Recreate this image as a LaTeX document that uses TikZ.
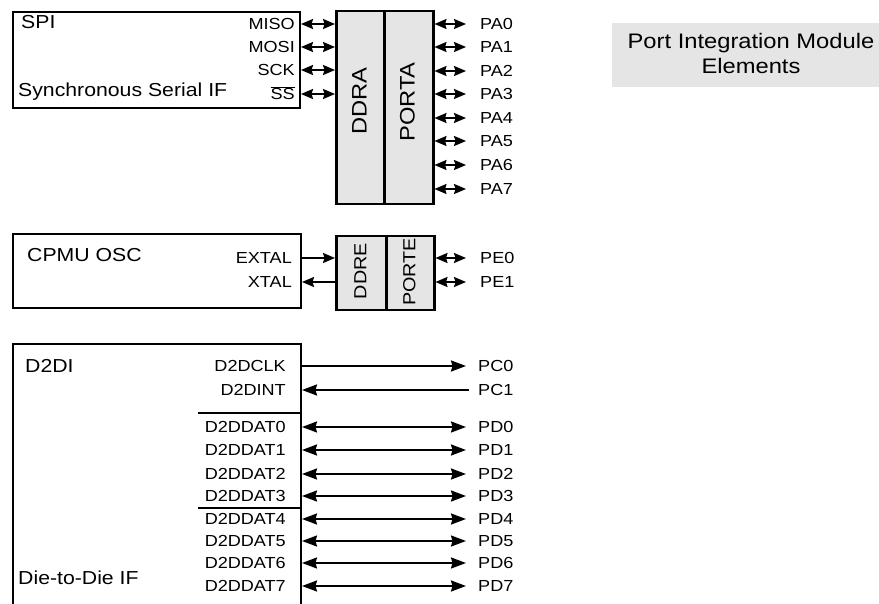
\documentclass[tikz,border=0pt]{standalone}
\usepackage{fontspec}
\setmainfont{Liberation Sans}[FakeStretch=1.13]
\usetikzlibrary{arrows.meta}
\definecolor{regfill}{gray}{0.9}
\begin{document}
\begin{tikzpicture}[x=1pt,y=-1pt,
  >={Stealth[length=15pt,width=11pt,inset=1.5pt]},
  shortarr/.style={>={Stealth[length=12pt,width=10pt,inset=1.5pt]}},
  box/.style={draw, line width=2pt, inner sep=0pt, anchor=north west},
  reg/.style={draw, line width=2.5pt, fill=regfill, inner sep=0pt, anchor=north west},
  big/.style={font=\fontsize{18.8}{24}\selectfont, inner sep=0pt, text height=13.5pt, text depth=0pt},
  legend/.style={font=\fontsize{21}{25}\selectfont, inner sep=0pt, align=center},
  regtext/.style={font=\fontsize{21}{25}\selectfont, inner sep=0pt, rotate=90, text height=15pt, text depth=0pt},
  regtextsm/.style={regtext, font=\fontsize{17.5}{22}\selectfont, text height=12.5pt},
  small/.style={font=\fontsize{16}{19}\selectfont, inner sep=0pt, text height=11.4pt, text depth=0pt},
  sig/.style={line width=2pt},
  sep/.style={line width=2pt}]
\clip (0,0) rectangle (879,604);
\fill[white] (0,0) rectangle (879,604);

% ---------------- SPI / PORTA ----------------
\node[box, minimum width=287pt, minimum height=96pt] (spi) at (12,11) {};
\node[reg, minimum width=48pt, minimum height=193pt] (ddra) at (335,10) {};
\node[reg, minimum width=49pt, minimum height=193pt] (porta) at (383,10) {};
\node[regtext] (ddratxt) at (359,101) {DDRA};
\node[regtext] (portatxt) at (407,102) {PORTA};
\node[big, anchor=west] (spiname) at (21,22) {SPI};
\node[big, anchor=west] (spidesc) at (18,90) {Synchronous Serial IF};

\node[small, anchor=east] (miso) at (295,24) {MISO};
\node[small, anchor=east] (mosi) at (295,47) {MOSI};
\node[small, anchor=east] (sck) at (295,70) {SCK};
\node[small, anchor=east] (ss) at (295,94) {$\overline{\mbox{SS}}$};
\foreach \n in {miso,mosi,sck,ss}
  \draw[sig,shortarr,<->] (spi.east |- \n) -- (ddra.west |- \n);

\foreach \i/\y in {0/24,1/47,2/71,3/94,4/118,5/141,6/165,7/189}{
  \node[small, anchor=west] (pa\i) at (480,\y) {PA\i};
  \draw[sig,shortarr,<->,shorten >=14pt] (porta.east |- pa\i) -- (pa\i.west);
}

% ---------------- CPMU OSC / PORTE ----------------
\node[box, minimum width=288pt, minimum height=74pt] (cpmu) at (12,233) {};
\node[reg, minimum width=50pt, minimum height=74pt] (ddre) at (335,235) {};
\node[reg, minimum width=48pt, minimum height=74pt] (porte) at (385,235) {};
\node[regtextsm] (ddretxt) at (360,271) {DDRE};
\node[regtextsm] (portetxt) at (409,272) {PORTE};
\node[big, anchor=west] (cpmuname) at (27,255) {CPMU OSC};
\node[small, anchor=east] (extal) at (292,258) {EXTAL};
\node[small, anchor=east] (xtal) at (292,282) {XTAL};
\draw[sig,shortarr,->] (cpmu.east |- extal) -- (ddre.west |- extal);
\draw[sig,shortarr,<-] (cpmu.east |- xtal) -- (ddre.west |- xtal);
\node[small, anchor=west] (pe0) at (480,258) {PE0};
\node[small, anchor=west] (pe1) at (480,282) {PE1};
\draw[sig,shortarr,<->,shorten >=14pt] (porte.east |- pe0) -- (pe0.west);
\draw[sig,shortarr,<->,shorten >=14pt] (porte.east |- pe1) -- (pe1.west);

% ---------------- D2DI ----------------
\node[box, minimum width=288pt, minimum height=290pt] (d2di) at (12,343) {};
\node[big, anchor=west] (d2diname) at (25,366) {D2DI};
\node[big, anchor=west] (d2didesc) at (18,578) {Die-to-Die IF};
\draw[sep] (198,413) -- (d2di.east |- 0,413);
\draw[sep] (198,508) -- (d2di.east |- 0,508);

\node[small, anchor=east] (clk) at (286,366) {D2DCLK};
\node[small, anchor=east] (int) at (286,390) {D2DINT};
\node[small, anchor=west] (pc0) at (478,366) {PC0};
\node[small, anchor=west] (pc1) at (478,390) {PC1};
\draw[sig,->,shorten >=12pt] (d2di.east |- clk) -- (pc0.west);
\draw[sig,<-,shorten >=9pt] (d2di.east |- int) -- (pc1.west);

\foreach \i/\y in {0/427,1/450,2/474,3/496,4/519,5/541,6/563,7/586}{
  \node[small, anchor=east] (dat\i) at (286,\y) {D2DDAT\i};
  \node[small, anchor=west] (pd\i) at (478,\y) {PD\i};
  \draw[sig,<->,shorten >=12pt] (d2di.east |- dat\i) -- (pd\i.west);
}

% ---------------- Legend ----------------
\node[fill=regfill, inner sep=0pt, minimum width=267pt, minimum height=64pt, anchor=north west] (pim) at (612,23) {};
\node[legend] (pimtxt) at (751,53) {Port Integration Module\\Elements};
\end{tikzpicture}
\end{document}
